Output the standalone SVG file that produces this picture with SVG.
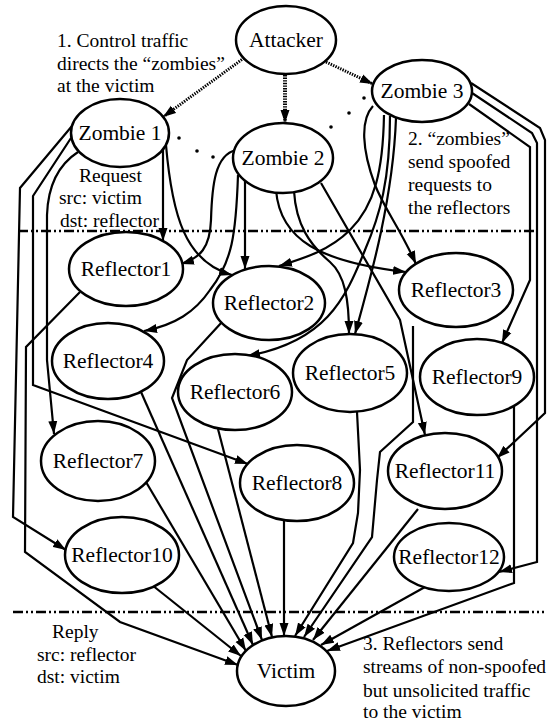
<svg xmlns="http://www.w3.org/2000/svg" width="548" height="721" viewBox="0 0 548 721">
<style>
.n{fill:#fff;stroke:#000;stroke-width:2.5}
.l{font-size:21.5px;text-anchor:middle;fill:#000}
.a{font-size:19.5px;fill:#000}
.e{fill:none;stroke:#000;stroke-width:2.2;stroke-linejoin:miter;marker-end:url(#ah)}
.d{fill:none;stroke:#000;stroke-width:3;stroke-dasharray:1.4 1.2;marker-end:url(#ah)}
.sep{fill:none;stroke:#000;stroke-width:2.5;stroke-dasharray:10 3 2 3 2 3}
</style>
<defs>
<marker id="ah" markerWidth="14" markerHeight="10" refX="13" refY="5" orient="auto" markerUnits="userSpaceOnUse"><path d="M0,0.5 L13,5 L0,9.5 z" fill="#000"/></marker>
</defs>
<rect width="548" height="721" fill="#fff"/>
<g id="separators">
<line class="sep" x1="18" y1="231" x2="535" y2="231"/>
<line class="sep" x1="13" y1="612" x2="544" y2="612"/>
</g>
<g id="connectors">
<path class="d" d="M244,58 L163,117"/>
<path class="d" d="M285,75 L285,123" style="stroke-width:4"/>
<path class="d" d="M326,62 L373,84"/>
<g fill="#000">
<circle cx="179" cy="138" r="1.8"/><circle cx="197" cy="151" r="1.8"/><circle cx="213" cy="157" r="1.8"/>
<circle cx="364" cy="98" r="1.8"/><circle cx="349" cy="113" r="1.8"/><circle cx="331" cy="127" r="1.8"/>
</g>
<path class="e" d="M163,149 L163,241"/>
<path class="e" d="M166,145 C172,215 185,262 232,275"/>
<path class="e" d="M78,152 C58,165 48,185 47,215 L47,360 L54,434"/>
<path class="e" d="M71,138 L33,196 L33,385 L248,464"/>
<path class="e" d="M72,126 L20,188 L13,517 L66,550"/>
<path class="e" d="M236,150 C215,155 212,185 211,220 C210,248 200,258 181,264"/>
<path class="e" d="M245,181 L245,269"/>
<path class="e" d="M238,175 C236,235 232,262 210,290 C195,312 175,325 144,331"/>
<path class="e" d="M276,190 C280,240 320,262 406,272"/>
<path class="e" d="M294,191 C296,225 310,245 330,262 C345,275 349,300 349,334"/>
<path class="e" d="M321,183 L400,320 L425,435"/>
<path class="e" d="M373,106 C360,120 362,150 375,185 C385,210 400,228 416,264"/>
<path class="e" d="M384,115 C383,170 375,205 350,230 C330,250 305,258 279,266"/>
<path class="e" d="M390,116 C390,180 380,215 365,250 C345,300 325,342 247,356"/>
<path class="e" d="M396,118 C393,200 370,280 355,334"/>
<path class="e" d="M469,104 L530,147 L530,280 L502,343"/>
<path class="e" d="M471,83 L540,128 L545,140 L545,413 L497,458"/>
<path class="e" d="M472,93 L532,133 L537,143 L537,562 L499,572"/>
<path class="e" d="M80,292 L26,347 L25,552 L120,622 L238,665"/>
<path class="e" d="M152,585 L241,656"/>
<path class="e" d="M146,482 L246,651"/>
<path class="e" d="M141,392 L253,645"/>
<path class="e" d="M222,322 L187,360 L172,398 L262,640"/>
<path class="e" d="M218,429 L272,637"/>
<path class="e" d="M284,521 L284,636"/>
<path class="e" d="M357,412 L360,470 L358,513 L353,543 L295,636"/>
<path class="e" d="M413,326 L413,422 L380,452 L377,480 L372,537 L304,637"/>
<path class="e" d="M418,509 L313,640"/>
<path class="e" d="M425,587 L321,645"/>
<path class="e" d="M514,406 L514,583 L327,651"/>
</g>
<g font-family="Liberation Serif, serif">
<g id="attacker"><ellipse class="n" cx="286" cy="40" rx="50" ry="34"/><text class="l" x="286" y="47">Attacker</text></g>
<g id="zombie1"><ellipse class="n" cx="120" cy="133" rx="49" ry="34"/><text class="l" x="120" y="140">Zombie 1</text></g>
<g id="zombie2"><ellipse class="n" cx="283" cy="158" rx="50" ry="35"/><text class="l" x="283" y="165">Zombie 2</text></g>
<g id="zombie3"><ellipse class="n" cx="422" cy="91" rx="50" ry="31"/><text class="l" x="422" y="98">Zombie 3</text></g>
<g id="reflector1"><ellipse class="n" cx="126" cy="269" rx="57" ry="37"/><text class="l" x="126" y="276">Reflector1</text></g>
<g id="reflector2"><ellipse class="n" cx="269" cy="303" rx="56" ry="37"/><text class="l" x="269" y="310">Reflector2</text></g>
<g id="reflector3"><ellipse class="n" cx="456" cy="290" rx="57" ry="37"/><text class="l" x="456" y="297">Reflector3</text></g>
<g id="reflector4"><ellipse class="n" cx="108" cy="361" rx="56" ry="38"/><text class="l" x="108" y="368">Reflector4</text></g>
<g id="reflector5"><ellipse class="n" cx="350" cy="373" rx="57" ry="39"/><text class="l" x="350" y="380">Reflector5</text></g>
<g id="reflector6"><ellipse class="n" cx="235" cy="392" rx="57" ry="38"/><text class="l" x="235" y="399">Reflector6</text></g>
<g id="reflector7"><ellipse class="n" cx="98" cy="461" rx="57" ry="40"/><text class="l" x="98" y="468">Reflector7</text></g>
<g id="reflector8"><ellipse class="n" cx="297" cy="483" rx="57" ry="38"/><text class="l" x="297" y="490">Reflector8</text></g>
<g id="reflector9"><ellipse class="n" cx="477" cy="377" rx="57" ry="38"/><text class="l" x="477" y="384">Reflector9</text></g>
<g id="reflector10"><ellipse class="n" cx="122" cy="555" rx="57" ry="38"/><text class="l" x="122" y="562">Reflector10</text></g>
<g id="reflector11"><ellipse class="n" cx="445" cy="471" rx="57" ry="38"/><text class="l" x="445" y="478">Reflector11</text></g>
<g id="reflector12"><ellipse class="n" cx="449" cy="557" rx="55" ry="34"/><text class="l" x="449" y="564">Reflector12</text></g>
<g id="victim"><ellipse class="n" cx="286" cy="671" rx="49" ry="35"/><text class="l" x="286" y="678">Victim</text></g>
<g id="notes">
<text class="a" x="57" y="47">1. Control traffic</text>
<text class="a" x="57" y="69.5">directs the “zombies”</text>
<text class="a" x="57" y="92">at the victim</text>
<text class="a" x="408" y="145">2. “zombies”</text>
<text class="a" x="408" y="168">send spoofed</text>
<text class="a" x="408" y="191">requests to</text>
<text class="a" x="408" y="214">the reflectors</text>
<text class="a" x="79" y="182">Request</text>
<text class="a" x="59" y="204">src: victim</text>
<text class="a" x="60" y="227">dst: reflector</text>
<text class="a" x="52" y="638">Reply</text>
<text class="a" x="37" y="661">src: reflector</text>
<text class="a" x="37" y="683">dst: victim</text>
<text class="a" x="363" y="650">3. Reflectors send</text>
<text class="a" x="363" y="673">streams of non-spoofed</text>
<text class="a" x="363" y="697">but unsolicited traffic</text>
<text class="a" x="363" y="718">to the victim</text>
</g>
</g>
</svg>
